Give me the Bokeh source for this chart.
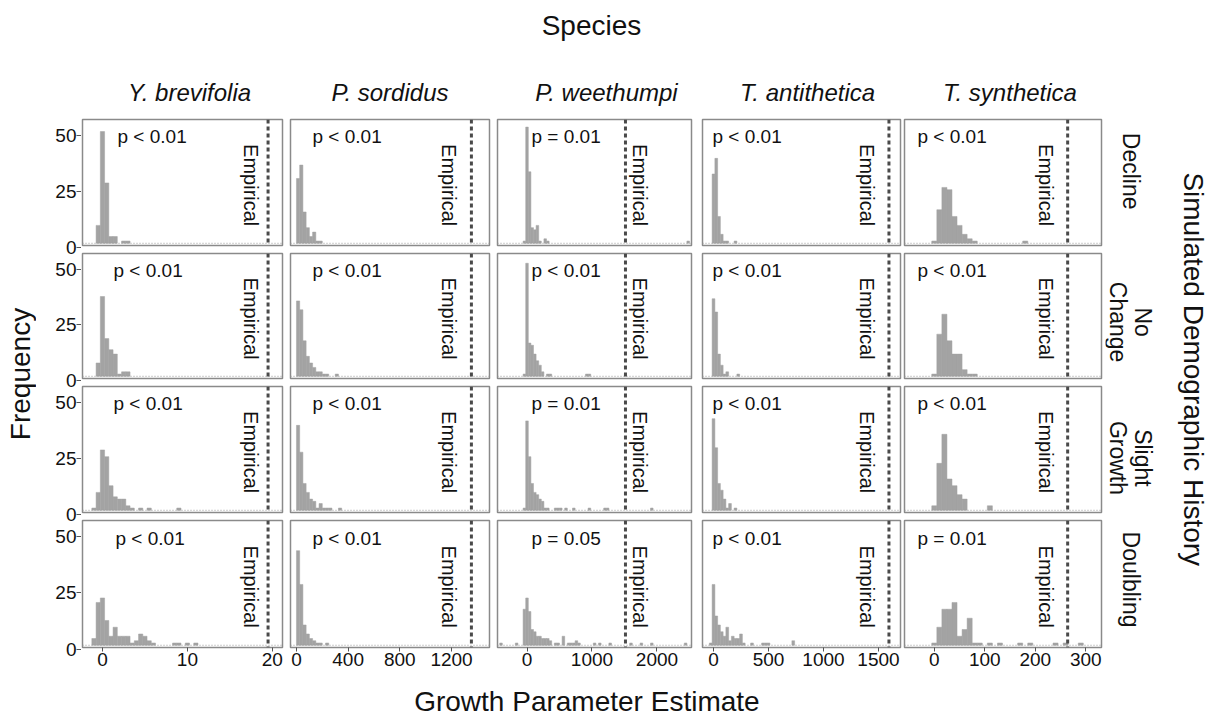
from math import pi
from bokeh.plotting import figure
from bokeh.models import Range1d, Span, Label, GridBox, FixedTicker, ColumnDataSource
from bokeh.embed import file_html
from bokeh.resources import INLINE

# ---------------- data ----------------
species = ["Y. brevifolia", "P. sordidus", "P. weethumpi", "T. antithetica", "T. synthetica"]
histories = ["Decline", "No\nChange", "Slight\nGrowth", "Doulbling"]
bin_width = [0.5, 25, 40, 25, 10]
empirical = [19.5, 1354, 1515, 1595, 264]
x_ticks = [[0, 10, 20], [0, 400, 800, 1200], [0, 1000, 2000], [0, 500, 1000, 1500], [0, 100, 200, 300]]
y_ticks = [0, 25, 50]

p_ybrev = ["p < 0.01", "p < 0.01", "p < 0.01", "p < 0.01"]
p_psord = ["p < 0.01", "p < 0.01", "p < 0.01", "p < 0.01"]
p_pweet = ["p = 0.01", "p < 0.01", "p = 0.01", "p = 0.05"]
p_tanti = ["p < 0.01", "p < 0.01", "p < 0.01", "p < 0.01"]
p_tsynth = ["p < 0.01", "p < 0.01", "p < 0.01", "p = 0.01"]

ybrev_centers = [
    [-0.5, 0, 0.5, 1.0, 1.5, 2.5, 3.0],
    [-0.5, 0, 0.5, 1.0, 1.5, 2.0, 2.5, 3.0],
    [-1, -0.5, 0, 0.5, 1, 1.5, 2, 2.5, 3, 3.5, 4.5, 5.5, 9],
    [-1, -0.5, 0, 0.5, 1, 1.5, 2, 2.5, 3, 3.5, 4, 4.5, 5, 5.5, 6, 8.5, 9, 10, 11],
]
ybrev_counts = [
    [8, 50, 27, 3, 3, 1, 1],
    [6, 36, 17, 12, 10, 1, 2, 2],
    [1, 8, 27, 24, 11, 6, 5, 5, 2, 1, 1, 1, 1],
    [3, 19, 21, 11, 4, 8, 4, 4, 4, 1, 2, 5, 4, 2, 1, 1, 1, 1, 1],
]

psord_centers = [
    [12.5, 37.5, 62.5, 87.5, 112.5, 137.5, 162.5, 187.5],
    [12.5, 37.5, 62.5, 87.5, 112.5, 137.5, 162.5, 187.5, 212.5, 237.5, 312.5],
    [12.5, 37.5, 62.5, 87.5, 112.5, 137.5, 162.5, 187.5, 212.5, 237.5, 262.5, 337.5],
    [12.5, 37.5, 62.5, 87.5, 112.5, 137.5, 162.5, 187.5, 237.5],
]
psord_counts = [
    [29, 35, 14, 7, 3, 5, 1, 1],
    [34, 30, 16, 9, 6, 4, 2, 2, 1, 1, 1],
    [38, 26, 12, 8, 5, 4, 1, 3, 1, 1, 1, 1],
    [42, 27, 9, 5, 3, 2, 1, 1, 1],
]

pweet_centers = [
    [-40, 0, 40, 80, 120, 160, 200, 280, 320, 2480],
    [-40, 0, 40, 80, 120, 160, 200, 240, 320, 360, 920, 960],
    [-40, 0, 40, 80, 120, 160, 200, 240, 280, 320, 440, 480, 520, 600, 720, 960, 1200, 1240, 1920],
    [-400, -160, -40, 0, 40, 80, 120, 160, 200, 240, 280, 320, 360, 440, 480, 560, 640, 680, 720,
     760, 800, 1040, 1120, 1280, 1600, 1760, 1920, 2440],
]
pweet_counts = [
    [1, 52, 32, 7, 6, 8, 1, 2, 1, 1],
    [1, 51, 15, 14, 10, 7, 5, 2, 1, 1, 1, 1],
    [1, 40, 24, 12, 8, 7, 5, 4, 1, 1, 1, 1, 1, 1, 1, 1, 1, 1, 1],
    [1, 1, 16, 21, 15, 7, 6, 4, 4, 3, 3, 3, 2, 1, 1, 4, 1, 1, 1, 2, 1, 1, 1, 1, 1, 1, 1, 1],
]

tanti_centers = [
    [0, 25, 50, 75, 100, 125, 200],
    [0, 25, 50, 75, 100, 125, 225],
    [0, 25, 50, 75, 100, 125, 150, 200],
    [-25, 0, 25, 50, 75, 100, 125, 150, 175, 200, 225, 250, 275, 350, 450, 475, 500, 725],
]
tanti_counts = [
    [31, 38, 12, 4, 1, 1, 1],
    [35, 29, 10, 5, 1, 2, 1],
    [41, 28, 12, 9, 5, 1, 3, 1],
    [1, 27, 13, 9, 6, 4, 8, 2, 4, 3, 3, 5, 1, 1, 1, 1, 1, 2],
]

tsynth_centers = [
    [0, 10, 20, 30, 40, 50, 60, 70, 80, 180],
    [0, 10, 20, 30, 40, 50, 60, 70, 80],
    [0, 10, 20, 30, 40, 50, 60, 110],
    [0, 10, 20, 30, 40, 50, 60, 70, 80, 90, 110, 130, 170, 190, 240, 260, 290],
]
tsynth_counts = [
    [1, 15, 25, 24, 12, 8, 4, 2, 1, 1],
    [1, 19, 28, 16, 10, 10, 3, 1, 1],
    [2, 21, 34, 14, 11, 7, 5, 2],
    [1, 8, 16, 16, 19, 4, 7, 12, 1, 1, 1, 1, 1, 1, 1, 1, 1],
]

all_centers = [ybrev_centers, psord_centers, pweet_centers, tanti_centers, tsynth_centers]
all_counts = [ybrev_counts, psord_counts, pweet_counts, tanti_counts, tsynth_counts]
all_p = [p_ybrev, p_psord, p_pweet, p_tanti, p_tsynth]

# ---------------- layout / style ----------------
FONT = "Liberation Sans"
x_limits = [(-2.35, 21.2), (-46, 1494), (-454, 2531), (-100, 1700), (-59, 331)]
y_limits = (-1, 55.4)
frame_w = [200, 199, 194, 198, 197]
border_l = [1, 4, 4, 6, 2]
border_r = [4, 4, 5, 2, 4]
frame_h = [126, 125, 126, 127]
border_t = [4, 4, 4, 4]
border_b = [4, 4, 4, 28]
row_h = [border_t[i] + frame_h[i] + border_b[i] for i in range(4)]
col_w = [border_l[i] + frame_w[i] + border_r[i] for i in range(5)]
p_dx = [[35, 31, 31, 33], [22, 22, 22, 22], [34, 34, 34, 34], [10, 10, 10, 10], [13, 13, 13, 13]]
emp_dx = [-17, -22, 15, -22, -22]
name_dx = [7, 0, 12, 6, 7]
row_label_y = [0.59, 0.451, 0.433, 0.535]
HEADER_H = 115
FREQ_W, YAX_W, ROWLAB_W, SIM_W, XLAB_H = 36, 45, 60, 46, 43
BAR = "#a3a3a3"
BIG = "28px"

x_ranges = [Range1d(*lim) for lim in x_limits]


def blank(w, h, xr=None, bl=0, br=0):
    kw = dict(toolbar_location=None, output_backend="svg", title=None,
              x_axis_location=None, y_axis_location=None,
              outline_line_color=None, background_fill_color="white",
              border_fill_color="white", min_border_top=0, min_border_bottom=0,
              min_border_left=bl, min_border_right=br,
              y_range=Range1d(0, 1))
    if xr is None:
        f = figure(width=w, height=h, x_range=Range1d(0, 1), **kw)
    else:
        f = figure(frame_width=w, frame_height=h, x_range=xr, **kw)
    f.xgrid.visible = False
    f.ygrid.visible = False
    return f


def text_label(f, x, y, text, size, angle=0.0, style="normal", dx=0, align="center", lh=1.2):
    f.add_layout(Label(x=x, y=y, x_offset=dx, text=text, angle=angle,
                       text_align=align, text_baseline="middle",
                       text_font=FONT, text_font_size=size, text_font_style=style,
                       text_color="#111111", text_line_height=lh))


def style_axis(ax):
    ax.axis_line_color = None
    ax.major_tick_line_color = "#555555"
    ax.major_tick_line_width = 1
    ax.major_tick_out = 4
    ax.major_tick_in = 0
    ax.minor_tick_line_color = None
    ax.major_label_standoff = 1
    ax.major_label_text_font = FONT
    ax.major_label_text_font_size = "19px"
    ax.major_label_text_color = "#111111"


children = []
PC = 2  # first panel column in the grid

# header row: species names (+ overall "Species")
for c in range(5):
    h = blank(frame_w[c], HEADER_H, xr=x_ranges[c], bl=border_l[c], br=border_r[c])
    xc = (x_limits[c][0] + x_limits[c][1]) / 2
    text_label(h, xc, 0.204, species[c], "24px", style="italic", dx=name_dx[c])
    if c == 2:
        text_label(h, xc, 0.783, "Species", BIG, dx=-3)
    children.append((h, 0, c + PC))

# panels
for r in range(4):
    for c in range(5):
        bottom = (r == 3)
        p = figure(frame_width=frame_w[c], frame_height=frame_h[r],
                   x_range=x_ranges[c], y_range=Range1d(*y_limits),
                   min_border_left=border_l[c], min_border_right=border_r[c],
                   min_border_top=border_t[r], min_border_bottom=border_b[r],
                   toolbar_location=None, output_backend="svg", title=None,
                   x_axis_location="below" if bottom else None,
                   y_axis_location=None,
                   background_fill_color="white", border_fill_color="white",
                   outline_line_color="#8a8a8a", outline_line_width=1.5)
        p.xgrid.visible = False
        p.ygrid.visible = False

        cen = all_centers[c][r]
        cnt = all_counts[c][r]
        w = bin_width[c]
        src = ColumnDataSource(dict(left=[v - w / 2 for v in cen],
                                    right=[v + w / 2 for v in cen],
                                    top=cnt))
        p.quad(left="left", right="right", top="top", bottom=0, source=src,
               fill_color=BAR, line_color=BAR, line_width=0.5)

        p.add_layout(Span(location=0, dimension="width", line_color="#9a9a9a",
                          line_width=1, line_dash="1 2"))
        p.add_layout(Span(location=empirical[c], dimension="height",
                          line_color="#4a4a4a", line_width=3, line_dash="4 3"))

        x0, x1 = x_limits[c]
        px = x0 + p_dx[c][r] * (x1 - x0) / frame_w[c]
        text_label(p, px, 47.6, all_p[c][r], "19px", align="left")
        text_label(p, empirical[c], 26, "Empirical", "20px", angle=-pi / 2, dx=emp_dx[c])

        if bottom:
            ax = p.xaxis[0]
            ax.ticker = FixedTicker(ticks=x_ticks[c])
            style_axis(ax)
        children.append((p, r + 1, c + PC))

    # row label
    rl = blank(ROWLAB_W, row_h[r])
    text_label(rl, 0.417, row_label_y[r], histories[r], "23px", angle=-pi / 2, lh=0.95)
    children.append((rl, r + 1, PC + 5))

total_rows_h = sum(row_h)

# shared y axis strip for the left column (one canvas so no label is clipped)
ytick_pos = []
ytick_over = {}
top = 0
for r in range(4):
    ftop = top + border_t[r]
    for v in y_ticks:
        frac = (y_limits[1] - v) / (y_limits[1] - y_limits[0])
        pos = total_rows_h - (ftop + frac * frame_h[r])
        ytick_pos.append(pos)
        ytick_over[pos] = str(v)
    top += row_h[r]

yax = figure(frame_width=1, frame_height=total_rows_h,
             x_range=Range1d(0, 1), y_range=Range1d(0, total_rows_h),
             min_border_left=YAX_W - 1, min_border_right=0, min_border_top=0, min_border_bottom=0,
             toolbar_location=None, output_backend="svg", title=None,
             x_axis_location=None, y_axis_location="left",
             outline_line_color=None, background_fill_color="white", border_fill_color="white")
yax.xgrid.visible = False
yax.ygrid.visible = False
ya = yax.yaxis[0]
ya.ticker = FixedTicker(ticks=ytick_pos)
ya.major_label_overrides = ytick_over
style_axis(ya)
ya.major_tick_in = 1
ya.major_label_standoff = 0
children.append((yax, 1, 1, 4, 1))

freq = blank(FREQ_W, total_rows_h)
text_label(freq, 0.556, 0.518, "Frequency", BIG, angle=pi / 2)
children.append((freq, 1, 0, 4, 1))

sim = blank(SIM_W, total_rows_h)
text_label(sim, 0.609, 0.527, "Simulated Demographic History", BIG, angle=-pi / 2)
children.append((sim, 1, PC + 6, 4, 1))

xlab = blank(sum(col_w), XLAB_H)
text_label(xlab, 0.495, 0.395, "Growth Parameter Estimate", BIG)
children.append((xlab, 5, PC, 1, 5))

grid = GridBox(children=children, spacing=0)

open("out.html", "w").write(file_html(grid, INLINE, title="Growth parameter histograms"))
